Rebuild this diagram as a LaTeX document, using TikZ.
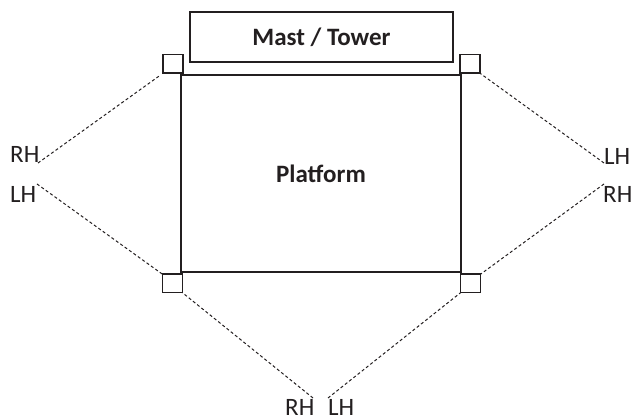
\documentclass[tikz,border=0pt]{standalone}
\usepackage{fontspec}
\setmainfont{Carlito}
\definecolor{ink}{HTML}{231F20}
\tikzset{
  x=1pt,y=-1pt,
  solidbox/.style={draw=ink,line width=1.5pt,inner sep=0pt,outer sep=0pt,text=ink},
  corner/.style={draw=ink,line width=1.5pt,fill=white,inner sep=0pt,outer sep=0pt,minimum width=20pt,minimum height=18.5pt},
  guy/.style={draw=ink,line width=1pt,dash pattern=on 3pt off 2.4pt},
  title/.style={font=\fontsize{25}{25}\selectfont\bfseries,text=ink},
  hand/.style={font=\fontsize{25}{25}\selectfont,text=ink,inner sep=0pt,anchor=base west}
}
\begin{document}
\begin{tikzpicture}
\useasboundingbox (0,0) rectangle (632,419);
\node[solidbox,minimum width=263pt,minimum height=50pt,title] (mast) at (321.5,37) {Mast / Tower};
\node[solidbox,minimum width=280pt,minimum height=197pt,title] (platform) at (321,173.5) {Platform};
\node[corner] (tl) at (173,64) {};
\node[corner] (tr) at (470,64) {};
\node[corner] (bl) at (172.5,283.5) {};
\node[corner] (br) at (470.5,283.5) {};
\node[hand] (rhl) at (10,163) {RH};
\node[hand] (lhl) at (10,203) {LH};
\node[hand] (lhr) at (604,165) {LH};
\node[hand] (rhr) at (603,203) {RH};
\node[hand] (rhb) at (285,416) {RH};
\node[hand] (lhb) at (328,416) {LH};
\coordinate (p1) at (38,163);
\coordinate (p2) at (37,184);
\coordinate (p3) at (604,163);
\coordinate (p4) at (604,184);
\coordinate (p5) at (313,398);
\coordinate (p6) at (328,398);
\draw[guy,shorten >=3pt] (p1) -- (tl.south west);
\draw[guy] (p2) -- (bl.north west);
\draw[guy] (p3) -- (tr.south east);
\draw[guy] (p4) -- (br.north east);
\draw[guy] (p5) -- (bl.south east);
\draw[guy] (p6) -- (br.south west);
\end{tikzpicture}
\end{document}
